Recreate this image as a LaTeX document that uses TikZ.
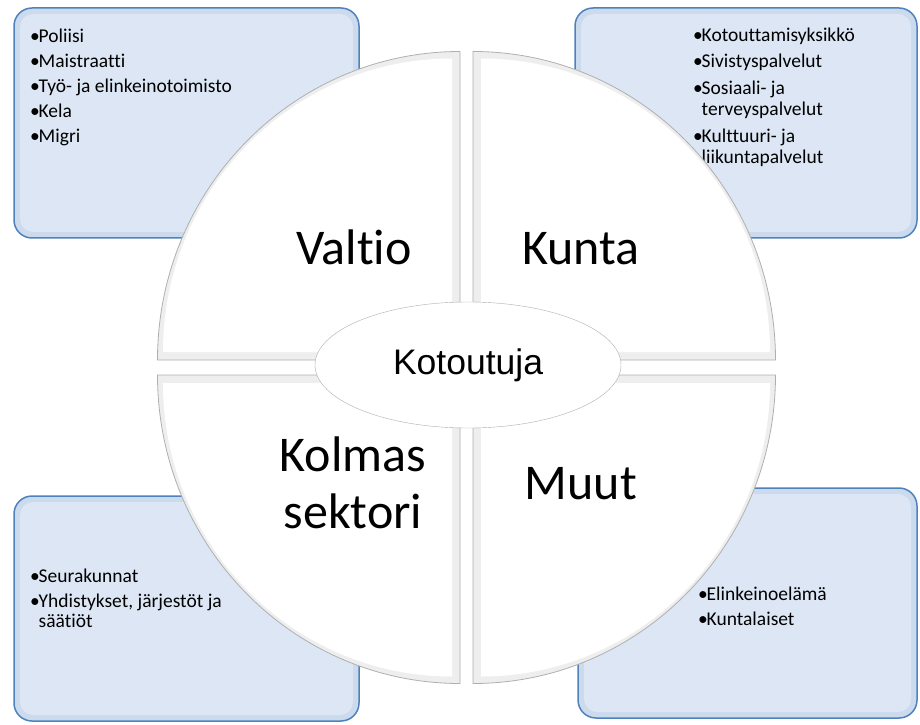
\documentclass[tikz,border=0pt]{standalone}
\usepackage{fontspec}
\setmainfont{Carlito}[Ligatures=NoCommon]
\newfontfamily\arialfont{Liberation Sans}
\usetikzlibrary{shapes.geometric,positioning}

\definecolor{laatikkoreuna}{RGB}{79,129,189}
\definecolor{laatikkotausta}{RGB}{220,230,244}
\definecolor{laatikkoreunus}{RGB}{204,218,238}
\definecolor{lohkoreuna}{RGB}{175,175,175}
\definecolor{lohkoreunus}{RGB}{238,238,238}

\newcommand{\kohta}{\makebox[8.5pt][l]{\textbullet}}
\newcommand{\jatko}{\hspace*{8.5pt}}

\begin{document}
\begin{tikzpicture}[x=1pt,y=1pt,
  laatikko/.style={draw=laatikkoreuna, line width=1.5pt, fill=laatikkoreunus, rounded corners=18pt},
  sisus/.style={fill=laatikkotausta, rounded corners=13pt},
  lista/.style={anchor=north west, inner sep=0pt, align=left, font=\fontsize{19.5}{20.5}\selectfont},
  lohko/.style={fill=lohkoreunus, draw=lohkoreuna, line width=0.8pt},
  otsikko/.style={font=\fontsize{50}{57}\selectfont, align=center}]
\useasboundingbox (0,0) rectangle (920,724);

% laatikot
\draw[laatikko] (14,486) rectangle (359,716);
\fill[sisus] (20,492) rectangle (353,710);
\draw[laatikko] (575,486) rectangle (917,716);
\fill[sisus] (581,492) rectangle (911,710);
\draw[laatikko] (14,3) rectangle (359,228);
\fill[sisus] (20,9) rectangle (353,222);
\draw[laatikko] (578,6) rectangle (917,236);
\fill[sisus] (584,12) rectangle (911,230);

% listat
\node[lista] (valtiolista) at (30,695) {\kohta Poliisi\\[4.5pt]\kohta Maistraatti\\[4.5pt]\kohta Työ- ja elinkeinotoimisto\\[4.5pt]\kohta Kela\\[4.5pt]\kohta Migri};
\node[lista] (kuntalista) at (693,696) {\kohta Kotouttamisyksikkö\\[5.5pt]\kohta Sivistyspalvelut\\[6.5pt]\kohta Sosiaali- ja\\\jatko terveyspalvelut\\[7pt]\kohta Kulttuuri- ja\\\jatko liikuntapalvelut};
\node[lista] (sektorilista) at (30,155) {\kohta Seurakunnat\\[4pt]\kohta Yhdistykset, järjestöt ja\\\jatko säätiöt};
\node[lista] (muutlista) at (698,137) {\kohta Elinkeinoelämä\\[4.5pt]\kohta Kuntalaiset};

% lohkot
\foreach \sx/\sy in {-1/1, 1/1, -1/-1, 1/-1}{
  \begin{scope}[shift={(466.5,356.5)}, xscale=\sx, yscale=\sy]
    \draw[lohko] (6.5,7.5) -- (6.5,316) arc[start angle=90, end angle=0, x radius=302.5, y radius=308.5] -- cycle;
    \fill[white] (14.5,15.5) -- (14.5,309) arc[start angle=90, end angle=0, x radius=289, y radius=293.5] -- cycle;
  \end{scope}
}

% otsikot
\node[otsikko, anchor=base] (valtio) at (354,459) {Valtio};
\node[otsikko, anchor=base] (kunta) at (581,459) {Kunta};
\node[otsikko] (kolmas) at (353,241) {Kolmas\\sektori};
\node[otsikko, anchor=base] (muut) at (581,225) {Muut};

\node[ellipse, draw=lohkoreuna, fill=white, minimum width=306pt, minimum height=126pt,
  font=\arialfont\fontsize{35.5}{40}\selectfont] (kotoutuja) at (468,359) {Kotoutuja};

\end{tikzpicture}
\end{document}
